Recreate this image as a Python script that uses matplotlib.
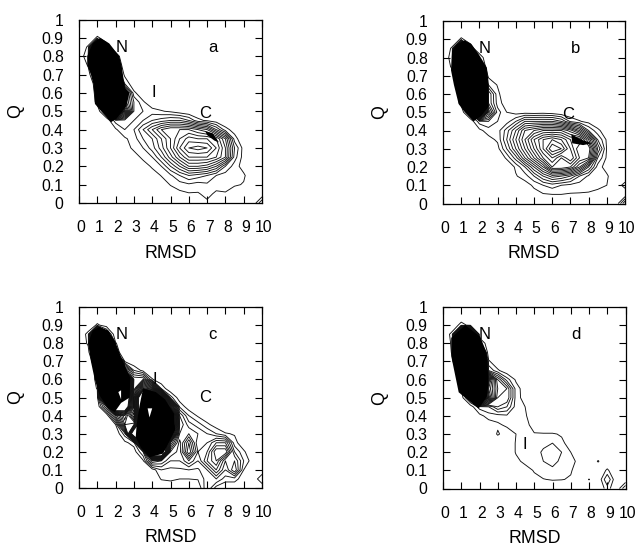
import numpy as np
import matplotlib
matplotlib.use('Agg')
import matplotlib.pyplot as plt
from matplotlib.transforms import ScaledTranslation

plt.rcParams['font.family'] = ['Liberation Sans', 'DejaVu Sans']

rmsd = [0, .5, 1, 1.5, 2, 2.5, 3, 3.5, 4, 4.5, 5, 5.5, 6, 6.5, 7, 7.5, 8, 8.5, 9, 9.5, 10]
q = [1, .95, .9, .85, .8, .75, .7, .65, .6, .55, .5, .45, .4, .35, .3, .25, .2, .15, .1, .05, 0]
x_ticks = [0, 1, 2, 3, 4, 5, 6, 7, 8, 9, 10]
x_labels = ['0', '1', '2', '3', '4', '5', '6', '7', '8', '9', '10']
y_ticks = [0, .1, .2, .3, .4, .5, .6, .7, .8, .9, 1]
y_labels = ['0', '0.1', '0.2', '0.3', '0.4', '0.5', '0.6', '0.7', '0.8', '0.9', '1']

# population surfaces, one row per Q from 1 down to 0, rows stop at the last non zero cell
surface_a = [
    [],
    [],
    [0, 0, 1.2, .4],
    [0, 1.2, 30, 1.6],
    [0, 2, 30, 30, 1.7],
    [0, 1.1, 30, 30, 3],
    [0, .5, 3, 30, 4, .7],
    [0, 0, 1.8, 30, 30, 2],
    [0, 0, 1.5, 30, 30, 8, 1.3],
    [0, 0, 1.3, 30, 30, 8, 3, 1.2],
    [0, 0, .3, 3, 30, 12, 3, 2, 1.5, 1.1, .8, .3],
    [0, 0, 0, .2, 2.5, 2.5, 2, 2, 3, 3.5, 4, 4, 3, 1.3, .8, .3],
    [0, 0, 0, 0, .8, 2, 2, 4, 6, 8, 9, 9, 9, 8, 7, 4, 1.4, .5],
    [0, 0, 0, 0, 0, .8, 1.5, 3, 4, 6, 8, 10, 11.5, 11, 11, 10, 7, 1.5],
    [0, 0, 0, 0, 0, 0, 1.5, 2, 3.5, 5.5, 8, 11, 13, 13.5, 13, 11, 8, 3, .5],
    [0, 0, 0, 0, 0, 0, 0, 1.5, 2, 4, 6.5, 9, 11, 11, 11, 10, 8, 2.5, .5],
    [0, 0, 0, 0, 0, 0, 0, 0, 1.3, 2, 4, 6, 8, 8, 7.5, 6, 3, 1.5, .5],
    [0, 0, 0, 0, 0, 0, 0, 0, 0, 1.1, 1.8, 3, 4, 3.5, 3, 2, 1.5, 1.5, 1.2],
    [0, 0, 0, 0, 0, 0, 0, 0, 0, 0, 1.1, 1.5, 1.8, 1.5, 1.8, 1.4, 1.4, 1.2, .9],
    [0, 0, 0, 0, 0, 0, 0, 0, 0, 0, 0, .7, .9, .9, 1.3, .8, .9],
    [0, 0, 0, 0, 0, 0, 0, 0, 0, 0, 0, 0, 0, 0, .8, 0, 0, 0, 0, 0, 3],
]
surface_b = [
    [],
    [],
    [0, 0, 1.2, .4],
    [0, 1.2, 30, 1.6],
    [0, 1.6, 30, 30, 1.7],
    [0, 1.2, 30, 30, 3],
    [0, .5, 3, 30, 5, .7],
    [0, 0, 1.8, 30, 30, 2, .9],
    [0, 0, 1.5, 30, 30, 5, 1.3],
    [0, 0, 1.3, 30, 30, 5, 1.5, .4],
    [0, 0, .3, 3, 30, 8, 2.5, 1, .5, .5, .4, .5, .3],
    [0, 0, 0, .2, 2.5, 3, 2, 1.5, 3, 5, 5, 5, 5, 4, 1.8, 1.1, .6],
    [0, 0, 0, 0, .7, 1.5, 1.5, 3.5, 6, 9, 10, 11, 11, 11, 9.5, 7, 3, 1.3, .2],
    [0, 0, 0, 0, 0, .6, 1.2, 4, 7, 10, 13, 15, 16, 15, 13, 13, 9, 3, .8],
    [0, 0, 0, 0, 0, 0, .6, 3, 6, 9, 12, 15, 18, 17, 14, 11, 12, 5, .9],
    [0, 0, 0, 0, 0, 0, 0, 1.2, 3.5, 7, 10, 13, 15, 13, 15, 12, 11, 3, .8],
    [0, 0, 0, 0, 0, 0, 0, 0, 1.2, 3, 6, 9, 13, 13, 12, 9, 5, 1.5, .5],
    [0, 0, 0, 0, 0, 0, 0, 0, .9, 1.5, 3, 5, 6.5, 6, 5, 3, 1.8, 1.1, 1.2],
    [0, 0, 0, 0, 0, 0, 0, 0, 0, .5, 1.2, 2, 2.5, 2, 1.7, 1.5, 1.3, 1.5, 1, .2, 1.5],
    [0, 0, 0, 0, 0, 0, 0, 0, 0, 0, .6, .9, 1, 1, .9, .9, .9, .4],
    [0, 0, 0, 0, 0, 0, 0, 0, 0, 0, 0, 0, 0, 0, 0, 0, 0, 0, 0, 0, 4],
]
surface_c = [
    [],
    [],
    [0, 0, 1.2, .4],
    [0, 1.4, 30, 4],
    [0, 1.2, 30, 30, 1.1],
    [0, .5, 6, 30, 1.7],
    [0, 0, 2.5, 30, 30, .8],
    [0, 0, 1.4, 30, 30, 8, 2, .6],
    [0, 0, 1.4, 30, 30, 30, 6, 6, 1.1, .2],
    [0, 0, 1.1, 30, 30, 30, 5, 16, 14, 1.8],
    [0, 0, .3, 30, 12, 30, 7, 30, 30, 20, 2.5, .3],
    [0, 0, 0, 5, 30, 25, 8, 30, 30, 30, 16, 1.8, .3],
    [0, 0, 0, 0, 6, 12, 5, 30, 10, 30, 30, 5, 2, .8],
    [0, 0, 0, 0, 1, 10, 11, 30, 30, 30, 30, 6, 3.5, 2.5, 1.3, .4],
    [0, 0, 0, 0, 0, 2.5, 25, 30, 30, 30, 22, 5, 5, 4, 3, 2, 1.1, .9],
    [0, 0, 0, 0, 0, .7, 1.5, 20, 30, 30, 9, 3.5, 8, 3, 4, 6, 6, 1.4, .2],
    [0, 0, 0, 0, 0, 0, .4, 3, 30, 30, 5, 3.5, 9, 4, 5, 9, 9, 3, 1.2],
    [0, 0, 0, 0, 0, 0, 0, .8, 6, 5, 3, 3, 5, 3, 6, 8, 4, 5, 2, .3],
    [0, 0, 0, 0, 0, 0, 0, 0, .4, 2, 1.7, 1.8, 2, 1.8, 3, 6, 3, 6, 1],
    [0, 0, 0, 0, 0, 0, 0, 0, 0, 1.1, 1.2, 1, 1, 1.1, 2.5, 3, 1.5, 1.5, .3, 0, 2],
    [0, 0, 0, 0, 0, 0, 0, 0, 0, 0, .3, 0, 0, 0, 3, .5],
]
surface_d = [
    [],
    [],
    [0, 0, 1.5, .6],
    [0, 1.4, 30, 30],
    [0, 1.2, 30, 30, 2.5],
    [0, 1.1, 30, 30, 8],
    [0, .8, 3, 30, 30, 1.2],
    [0, 0, 2, 30, 30, 3, 1.2, .2],
    [0, 0, 1.6, 30, 30, 14, 6, 2.5, .8],
    [0, 0, 1.1, 30, 30, 12, 7, 6, 1.5, .4],
    [0, 0, .3, 4, 30, 14, 6, 6, 1.5, .5],
    [0, 0, 0, .3, 2.5, 3, 5, 4, 1.5, 1],
    [0, 0, 0, 0, .6, 1.5, 1.5, 1.8, 1.3, 1.2],
    [0, 0, 0, 0, 0, .3, .8, 1.2, 1.3, 1.5, .4],
    [0, 0, 0, 0, 0, 0, 1.15, .4, 1, 1.3, 1.1, 1.1, 1.1, .9],
    [0, 0, 0, 0, 0, 0, 0, 0, 1.1, 1.4, 1.4, 1.7, 2, 1.2, .6],
    [0, 0, 0, 0, 0, 0, 0, 0, 1.1, 1.5, 1.5, 2.2, 2.5, 2, 1, .4],
    [0, 0, 0, 0, 0, 0, 0, 0, .7, 1.3, 1.5, 2, 2.3, 1.8, 1.2, .8, 0, 1.1],
    [0, 0, 0, 0, 0, 0, 0, 0, 0, .5, 1.1, 1.6, 1.8, 1.4, 1.1, .4, 0, 0, 1.2],
    [0, 0, 0, 0, 0, 0, 0, 0, 0, 0, .7, .95, 1.1, 1.05, .9, 0, 1.05, 0, 3],
    [0, 0, 0, 0, 0, 0, 0, 0, 0, 0, 0, 0, 0, 0, 0, 0, 0, 0, 1.5, 0, 3],
]

# solid black areas where contours pile up, outlines as (RMSD, Q)
black_a = [
    [(1.15, .9), (.75, .87), (.45, .8), (.45, .75), (.65, .7), (.78, .65), (.85, .58), (.87, .54), (1.3, .49),
     (1.75, .44), (2.05, .46), (2.6, .53), (2.75, .6), (2.5, .63), (2.4, .7), (2.33, .75), (2.2, .8), (1.65, .87)],
    [(6.9, .39), (7.3, .38), (7.65, .33), (7.4, .34), (7, .37)],
]
black_b = [
    [(1.17, .895), (.75, .87), (.5, .835), (.44, .73), (.6, .65), (.86, .545), (1.2, .5), (1.68, .45), (2.1, .48),
     (2.5, .53), (2.5, .67), (2.41, .745), (1.95, .82), (1.55, .875)],
    [(7.05, .38), (7.6, .35), (8.2, .33), (7.7, .32), (7.1, .33)],
]
black_c = [
    [(1.13, .89), (.75, .87), (.5, .8), (.65, .7), (.86, .6), (1.13, .51), (1.6, .44), (1.95, .42), (2.3, .47),
     (2.77, .5), (2.8, .61), (2.4, .7), (1.95, .815), (1.6, .87)],
    [(3.5, .55), (4.2, .53), (4.7, .49), (5.2, .41), (5.25, .32), (4.9, .25), (4.6, .19), (3.86, .17), (3.4, .22),
     (3.1, .28), (3.15, .35), (3.3, .45)],
]
black_d = [
    [(1.22, .9), (.45, .83), (.45, .73), (.86, .53), (1.95, .44), (2.4, .505), (2.5, .58), (2.4, .745), (2.04, .836)],
]
holes_c = [
    [(3.75, .44), (4.0, .44), (3.85, .39)],
    [(2.15, .53), (2.3, .54), (2.3, .49)],
]

levels = list(range(1, 20))

# surface, black areas, white holes, axes box in pixels (left, right, top, bottom), labels in data units
panels = [
    (surface_a, black_a, [], (79, 262, 19.5, 203), [('N', 2.33, .85), ('a', 7.3, .85), ('I', 4.1, .6), ('C', 6.9, .49)]),
    (surface_b, black_b, [], (443, 625, 21, 203.5), [('N', 2.3, .85), ('b', 7.3, .85), ('C', 6.9, .49)]),
    (surface_c, black_c, holes_c, (79, 262, 307, 488), [('N', 2.33, .85), ('c', 7.3, .85), ('I', 4.15, .6), ('C', 6.9, .5)]),
    (surface_d, black_d, [], (443, 625.5, 307, 488.5), [('N', 2.3, .85), ('d', 7.3, .85), ('I', 4.5, .24)]),
]


def to_grid(rows):
    filled = [row + [0] * (len(rmsd) - len(row)) for row in rows]
    return np.array(filled, dtype=float)


W, H = 638, 546
fig = plt.figure(figsize=(W / 100, H / 100), dpi=100)

for surface, blacks, holes, box, notes in panels:
    left, right, top, bottom = box
    ax = fig.add_axes([left / W, 1 - bottom / H, (right - left) / W, (bottom - top) / H])
    z = to_grid(surface)

    ax.contour(rmsd, q, z, levels=levels, colors='#111111', linewidths=0.65, linestyles='solid')
    for outline in blacks:
        ax.fill(*zip(*outline), color='black', linewidth=0, zorder=3)
    for outline in holes:
        ax.fill(*zip(*outline), color='white', linewidth=0, zorder=4)

    ax.set_xlim(0, 10)
    ax.set_ylim(0, 1)
    ax.set_xticks(x_ticks)
    ax.set_xticklabels(x_labels)
    ax.set_yticks(y_ticks)
    ax.set_yticklabels(y_labels)
    ax.tick_params(direction='in', top=True, right=True, length=5, width=0.8, labelsize=11.3)
    ax.tick_params(axis='x', pad=12.5)
    ax.tick_params(axis='y', pad=11)
    for label in ax.get_xticklabels():
        label.set_transform(label.get_transform() + ScaledTranslation(2 / 100, 0, fig.dpi_scale_trans))
    for spine in ax.spines.values():
        spine.set_linewidth(0.9)

    for text, tx, ty in notes:
        ax.text(tx, ty, text, fontsize=12, ha='center', va='center', zorder=5)

    fig.text((left + right) / 2 / W, 1 - (bottom + 50) / H, 'RMSD', fontsize=12.8, ha='center', va='center')
    fig.text((left - 63) / W, 1 - (top + bottom) / 2 / H, 'Q', fontsize=12.8, rotation=90, ha='center', va='center')

fig.savefig('out.png', dpi=100)
